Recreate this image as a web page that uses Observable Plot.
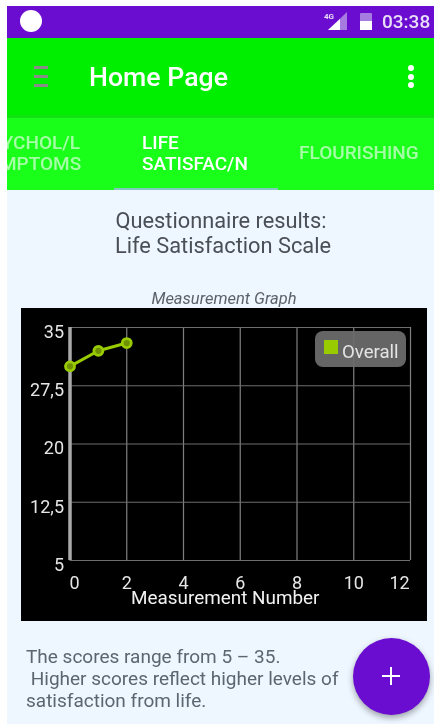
<!DOCTYPE html>
<html><head><meta charset="utf-8">
<script src="https://cdn.jsdelivr.net/npm/d3@7"></script>
<script src="https://cdn.jsdelivr.net/npm/@observablehq/plot@0.6"></script>
<style>
html,body{margin:0;padding:0;background:#fff;overflow:hidden}
#app{position:relative;width:434px;height:724px;font-family:Roboto,sans-serif;overflow:hidden;filter:blur(.5px)}
.a{position:absolute;white-space:nowrap}
</style></head><body>
<div id="app">
 <div class="a" style="left:7px;top:6px;width:427px;height:32px;background:#6a0dd0"></div>
 <div class="a" style="left:20px;top:10px;width:22px;height:22px;border-radius:50%;background:#fff"></div>
 <svg class="a" style="left:320px;top:10px" width="114" height="24">
  <text x="4" y="9" font-size="8" font-weight="700" fill="#e8dcf8">4G</text>
  <path d="M8 20L27 2V20Z" fill="#a67ce0"/><path d="M8 20L20 9V20Z" fill="#fff"/>
  <rect x="40" y="3" width="12" height="17" rx="1" fill="#a67ce0"/><rect x="40" y="11" width="12" height="9" fill="#fff"/>
  <text x="62" y="18" font-size="19" font-weight="500" fill="#eadff8" font-family="Roboto">03:38</text>
 </svg>
 <div class="a" style="left:7px;top:38px;width:427px;height:77px;background:#00ee00"></div>
 <div class="a" style="left:34px;top:66px;width:14px;height:3px;background:#8a8a8a;box-shadow:0 9px 0 #8a8a8a,0 18px 0 #8a8a8a"></div>
 <div class="a" style="left:89px;top:62px;font-size:26.7px;font-weight:500;color:#fff;line-height:30px">Home Page</div>
 <div class="a" style="left:408px;top:65px;width:6px;height:6px;border-radius:50%;background:#fff;box-shadow:0 9px 0 #fff,0 17px 0 #fff"></div>
 <div class="a" style="left:7px;top:115px;width:427px;height:75px;background:#19ff19;overflow:hidden">
  <div class="a" style="left:0;top:0;width:427px;height:3px;background:#11e011"></div>
  <div class="a" style="left:-33px;top:16.5px;font-size:19px;font-weight:500;line-height:21.5px;color:#a6ffa6;width:110px;text-align:center">PSYCHOL/L<br>SYMPTOMS</div>
  <div class="a" style="left:135px;top:16.5px;font-size:19px;font-weight:500;line-height:21.5px;color:#fff">LIFE<br>SATISFAC/N</div>
  <div class="a" style="left:292px;top:27px;font-size:19px;font-weight:500;line-height:22px;color:#a6ffa6">FLOURISHING</div>
  <div class="a" style="left:107px;top:73px;width:164px;height:2px;background:#80c8c0"></div>
 </div>
 <div class="a" style="left:7px;top:190px;width:427px;height:534px;background:#eef6ff"></div>
 <div class="a" style="left:7px;top:208px;width:428px;text-align:center;font-size:21.8px;line-height:25px;color:#4a4f55">Questionnaire results:<br><span style="position:relative;left:2px">Life Satisfaction Scale</span></div>
 <div class="a" style="left:7px;top:290px;width:434px;text-align:center;font-size:16.5px;font-style:italic;line-height:17px;color:#5c6268">Measurement Graph</div>
 <div class="a" id="chart" style="left:21px;top:308px"></div>
 <div class="a" style="left:315px;top:331px;width:91px;height:36px;border-radius:8px;background:rgba(110,110,110,.92)"></div>
 <div class="a" style="left:324px;top:340px;width:14px;height:14px;background:#99cc00"></div>
 <div class="a" style="left:342px;top:341px;font-size:18.6px;line-height:22px;color:#e4e4e4">Overall</div>
 <div class="a" style="left:26px;top:646px;font-size:19px;line-height:22px;color:#5b6670;white-space:pre">The scores range from 5 – 35.
 Higher scores reflect higher levels of
satisfaction from life.</div>
 <div class="a" style="left:353px;top:638px;width:77px;height:77px;border-radius:50%;background:#6a0dd0;box-shadow:0 3px 6px rgba(0,0,0,.35)"></div>
 <div class="a" style="left:382px;top:675px;width:18px;height:2px;background:#fff"></div>
 <div class="a" style="left:390px;top:667px;width:2px;height:18px;background:#fff"></div>
</div>
<script>
const measurement = [0, 1, 2];
const overall = [30, 32, 33];
const xTicks = [0, 2, 4, 6, 8, 10, 12];
const yTicks = [5, 12.5, 20, 27.5, 35];
const xAxisTitle = ["Measurement Number"];
const seriesColor = "#99cc00";
const rows = measurement.map((m, i) => ({m, v: overall[i]}));
const fmt = d => String(d).replace(".", ",");
const tickStyle = {tickSize: 0, color: "#e6e6e6", fontSize: 18};

const chart = Plot.plot({
  width: 406, height: 313,
  marginLeft: 48.5, marginRight: 17, marginTop: 19, marginBottom: 61,
  style: {background: "#000", fontFamily: "Roboto, sans-serif", display: "block"},
  x: {domain: [0, 12], label: null},
  y: {domain: [5, 35], label: null},
  marks: [
    Plot.ruleX(xTicks.slice(1), {stroke: "#808080", strokeWidth: 1.2, y1: 5, y2: 35}),
    Plot.ruleY(yTicks, {stroke: "#6e6e6e", strokeWidth: 1.2}),
    Plot.ruleX([0], {stroke: "#aaaaaa", strokeWidth: 3.5}),
    Plot.axisY({ticks: yTicks, tickFormat: fmt, tickPadding: 6, dy: 4.5, ...tickStyle, label: null}),
    Plot.axisX({ticks: [0], tickPadding: 16, dx: 4.5, ...tickStyle, label: null}),
    Plot.axisX({ticks: xTicks.slice(1, -1), tickPadding: 16, ...tickStyle, label: null}),
    Plot.axisX({ticks: [12], tickPadding: 16, dx: -11, ...tickStyle, label: null}),
    Plot.text(xAxisTitle, {frameAnchor: "bottom", lineAnchor: "middle", dx: -15, dy: 37, fill: "#f2f2f2", fontSize: 18.9}),
    Plot.line(rows, {x: "m", y: "v", stroke: seriesColor, strokeWidth: 3}),
    Plot.dot(rows, {x: "m", y: "v", r: 4.5, stroke: seriesColor, strokeWidth: 2.8, fill: "#6f9000"})
  ]
});
document.getElementById("chart").appendChild(chart);
</script>
</body></html>
